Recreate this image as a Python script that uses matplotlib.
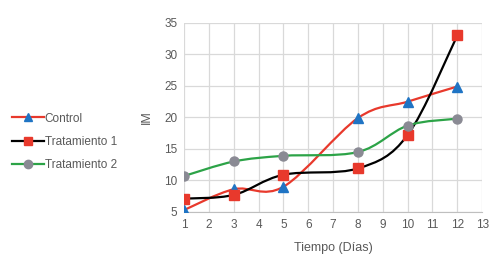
import numpy as np
import matplotlib
matplotlib.use('Agg')
import matplotlib.pyplot as plt
from matplotlib.path import Path
from matplotlib.patches import PathPatch
from matplotlib.lines import Line2D

dias = [1, 3, 5, 8, 10, 12]
control = [5.3, 8.6, 9.0, 19.9, 22.5, 24.9]
tratamiento_1 = [7.1, 7.7, 10.9, 11.9, 17.2, 33.0]
tratamiento_2 = [10.7, 13.0, 13.9, 14.5, 18.7, 19.8]

x_ticks = list(range(1, 14))
y_ticks = [5, 10, 15, 20, 25, 30, 35]

plt.rcParams['font.family'] = ['Liberation Sans', 'DejaVu Sans']
text_col = '#595959'


def smooth_path(xs, ys):
    # excel-like smoothed line: catmull-rom segments as cubic beziers
    p = np.column_stack([xs, ys]).astype(float)
    verts = [p[0]]
    codes = [Path.MOVETO]
    n = len(p)
    for i in range(n - 1):
        p0 = p[i - 1] if i > 0 else p[i]
        p1, p2 = p[i], p[i + 1]
        p3 = p[i + 2] if i + 2 < n else p[i + 1]
        c1 = p1 + (p2 - p0) / 6
        c2 = p2 - (p3 - p1) / 6
        verts += [c1, c2, p2]
        codes += [Path.CURVE4] * 3
    return Path(verts, codes)


fig = plt.figure(figsize=(4.95, 2.6), dpi=100)
ax = fig.add_axes([0.372, 0.185, 0.602, 0.727])

series = [
    ('Control', control, '#e8392c', '^', '#1f74c4'),
    ('Tratamiento 1', tratamiento_1, '#000000', 's', '#e8392c'),
    ('Tratamiento 2', tratamiento_2, '#2ca347', 'o', '#8a8a94'),
]

handles = []
for name, vals, lc, mk, mc in series:
    ax.add_patch(PathPatch(smooth_path(dias, vals), facecolor='none', edgecolor=lc,
                           lw=1.6, zorder=3))
    ax.plot(dias, vals, linestyle='none', marker=mk, markersize=6.5, color=mc, zorder=4)
    handles.append(Line2D([], [], color=lc, lw=1.6, marker=mk, markersize=6,
                          markerfacecolor=mc, markeredgecolor=mc))

ax.set_xlim(1, 13)
ax.set_ylim(5, 35)
ax.set_xticks(x_ticks)
ax.set_yticks(y_ticks)
ax.grid(True, color='#d9d9d9', lw=0.9)
ax.set_axisbelow(True)
for s in ['top', 'right', 'left']:
    ax.spines[s].set_visible(False)
ax.spines['bottom'].set_color('#bfbfbf')
ax.tick_params(length=0, labelsize=8.5, colors=text_col, pad=5)
ax.set_xlabel('Tiempo (Días)', fontsize=9, color=text_col, labelpad=8)
ax.set_ylabel('IM', fontsize=9, color=text_col, labelpad=8)

fig.legend(handles, [s[0] for s in series], loc='upper left',
           bbox_to_anchor=(0.014, 0.585), frameon=False, fontsize=8.5,
           handlelength=2.7, handletextpad=0.1, labelspacing=0.95,
           labelcolor=text_col, borderaxespad=0)

fig.savefig('out.png', dpi=100)
